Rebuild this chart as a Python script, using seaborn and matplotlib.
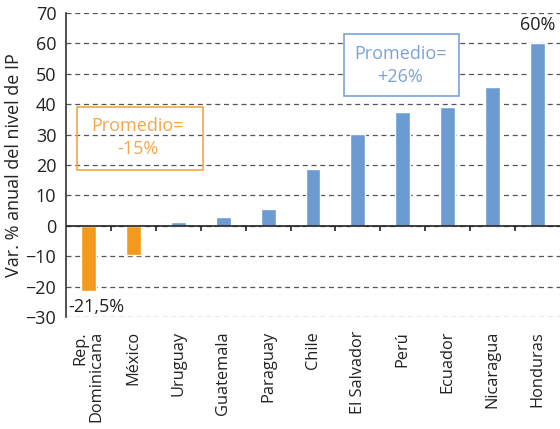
import numpy as np
import pandas as pd
import matplotlib
matplotlib.use('Agg')
import matplotlib.pyplot as plt
from matplotlib.patches import Rectangle
import seaborn as sns

paises = ['Rep.\nDominicana', 'México', 'Uruguay', 'Guatemala', 'Paraguay', 'Chile',
          'El Salvador', 'Perú', 'Ecuador', 'Nicaragua', 'Honduras']
variacion = [-21.5, -9.7, 1.4, 2.8, 5.6, 18.8, 30.1, 37.4, 39.0, 45.6, 60.2]
grupo = ['neg', 'neg', 'pos', 'pos', 'pos', 'pos', 'pos', 'pos', 'pos', 'pos', 'pos']
yticks = list(range(-30, 71, 10))

naranja = '#F39A1E'
azul = '#6C9BD2'
naranja_txt = '#F5A64A'
azul_txt = '#7BA3D8'

sns.set_style('white')
plt.rcParams['font.family'] = ['Open Sans', 'DejaVu Sans']

df = pd.DataFrame({'pais': paises, 'var': variacion, 'grupo': grupo})

fig = plt.figure(figsize=(5.6, 4.29), dpi=100)
ax = fig.add_axes([66 / 560, 1 - 317 / 429, 494 / 560, 304 / 429])

sns.barplot(df, x='pais', y='var', hue='grupo', palette={'neg': naranja, 'pos': azul},
            width=0.33, dodge=False, legend=False, ax=ax, saturation=1)

ax.set_ylim(-30, 70)
ax.set_xlim(-0.5, len(paises) - 0.5)
ax.set_yticks(yticks)
ax.yaxis.grid(True, linestyle=(0, (4, 3)), color='#555555', linewidth=0.9)
ax.set_axisbelow(True)
for s in ['top', 'right', 'bottom']:
    ax.spines[s].set_visible(False)
ax.spines['left'].set_color('#333333')
ax.spines['left'].set_linewidth(1.2)

# eje en cero con marcas en los límites de categorías
bordes = np.arange(len(paises) + 1) - 0.5
ax.axhline(0, color='#222222', linewidth=1.2, zorder=3)
ax.vlines(bordes[1:-1], -1.7, 0, color='#222222', linewidth=1.2, zorder=3)
ax.set_xticks(bordes[1:-1], minor=True)
ax.tick_params(axis='x', which='minor', length=6, width=1.2, color='#222222', direction='out')
ax.tick_params(axis='x', which='major', length=0, pad=10)
ax.set_xticks(range(len(paises)))
ax.set_xticklabels(paises, rotation=90, fontsize=11.8, color='#222222',
                   va='top', ha='center', multialignment='right', linespacing=1.05)
ax.tick_params(axis='y', length=5, width=1.2, color='#222222', labelsize=13, labelcolor='#222222', pad=2)
ax.set_xlabel('')
ax.set_ylabel('Var. % anual del nivel de IP', fontsize=13, color='#222222', labelpad=2)

ax.text(0.18, -26.8, '-21,5%', ha='center', va='center', fontsize=13, color='#222222')
ax.text(10, 63, '60%', ha='center', va='bottom', fontsize=13, color='#222222')

# recuadros de promedio
ax.add_patch(Rectangle((-0.26, 18.2), 2.8, 20.9, fill=False, ec=naranja_txt, lw=1.2, zorder=4))
ax.text(1.10, 28.9, 'Promedio=\n-15%', ha='center', va='center', fontsize=13,
        color=naranja_txt, linespacing=1.35, zorder=5)
ax.add_patch(Rectangle((5.68, 42.6), 2.56, 20.4, fc='white', ec=azul_txt, lw=1.2, zorder=4))
ax.text(6.94, 52.7, 'Promedio=\n+26%', ha='center', va='center', fontsize=13,
        color=azul_txt, linespacing=1.35, zorder=5)

fig.savefig('out.png', dpi=100)
